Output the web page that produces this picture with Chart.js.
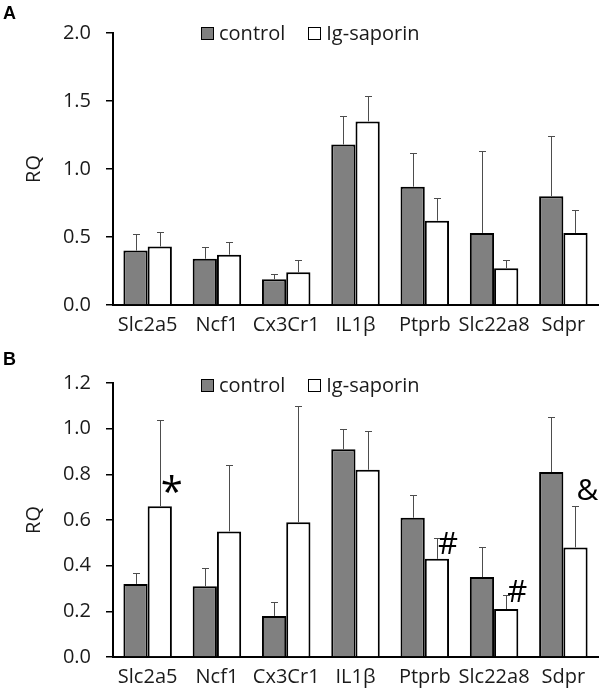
<!DOCTYPE html>
<html>
<head>
<meta charset="utf-8">
<script src="https://cdn.jsdelivr.net/npm/chart.js@4.4.1/dist/chart.umd.min.js"></script>
<style>
  body { margin: 0; background: #fff; }
  .panel { position: relative; width: 600px; height: 345px; }
  .panel canvas { position: absolute; left: 0; top: 0; }
  .letter { position: absolute; left: 3px; font: bold 18px 'Liberation Sans', Arial, sans-serif; line-height: 18px; color: #000; }
  .legend { position: absolute; left: 201px; display: flex; align-items: center; font: 20px 'Open Sans', sans-serif; line-height: 24px; color: #1a1a1a; }
  .legend .box { width: 11px; height: 11px; border: 1px solid #000; margin-right: 5px; }
  .legend .item { display: flex; align-items: center; margin-right: 23px; }
</style>
</head>
<body>
<div class="panel">
  <canvas id="chartA" width="600" height="345"></canvas>
  <div class="letter" style="top:4px">A</div>
  <div class="legend" id="legendA" style="top:21px"></div>
</div>
<div class="panel">
  <canvas id="chartB" width="600" height="345"></canvas>
  <div class="letter" style="top:5px">B</div>
  <div class="legend" id="legendB" style="top:28px"></div>
</div>
<script>
const genes = ['Slc2a5', 'Ncf1', 'Cx3Cr1', 'IL1\u03B2', 'Ptprb', 'Slc22a8', 'Sdpr'];

// panel A
const ctrlA = [0.40, 0.34, 0.19, 1.18, 0.87, 0.53, 0.80];
const ctrlErrA = [0.12, 0.09, 0.04, 0.21, 0.25, 0.60, 0.44];
const igA = [0.43, 0.37, 0.24, 1.35, 0.62, 0.27, 0.53];
const igErrA = [0.11, 0.09, 0.09, 0.19, 0.17, 0.06, 0.17];
const ticksA = [0, 0.5, 1.0, 1.5, 2.0];

// panel B
const ctrlB = [0.32, 0.31, 0.18, 0.91, 0.61, 0.35, 0.81];
const ctrlErrB = [0.05, 0.08, 0.06, 0.09, 0.10, 0.13, 0.24];
const igB = [0.66, 0.55, 0.59, 0.82, 0.43, 0.21, 0.48];
const igErrB = [0.38, 0.29, 0.51, 0.17, 0.09, 0.06, 0.18];
const ticksB = [0, 0.2, 0.4, 0.6, 0.8, 1.0, 1.2];
const marksB = ['*', '', '', '', '#', '#', '&'];
const markLevelB = [0.71, null, null, null, 0.49, 0.28, 0.725];

Chart.defaults.font.family = "'Open Sans', sans-serif";
Chart.defaults.font.size = 20;
Chart.defaults.color = '#1a1a1a';

// one-sided (upper) error bars from the errors array of each dataset
const errorBars = {
  id: 'errorBars',
  afterDatasetsDraw(chart) {
    const ctx = chart.ctx;
    const y = chart.scales.y;
    chart.data.datasets.forEach((ds, i) => {
      chart.getDatasetMeta(i).data.forEach((bar, j) => {
        const x = Math.round(bar.x) + 0.5;
        const top = Math.round(y.getPixelForValue(ds.data[j] + ds.errors[j])) + 0.5;
        ctx.save();
        ctx.strokeStyle = '#4d4d4d';
        ctx.lineWidth = 1;
        ctx.beginPath();
        ctx.moveTo(x, bar.y);
        ctx.lineTo(x, top);
        ctx.moveTo(x - 3.5, top);
        ctx.lineTo(x + 3.5, top);
        ctx.stroke();
        ctx.restore();
      });
    });
  }
};

const sigMarks = {
  id: 'sigMarks',
  afterDatasetsDraw(chart, args, opts) {
    if (!opts.marks) return;
    const ctx = chart.ctx;
    const y = chart.scales.y;
    const bars = chart.getDatasetMeta(opts.dataset).data;
    ctx.save();
    ctx.fillStyle = '#000';
    ctx.textAlign = 'left';
    ctx.textBaseline = 'middle';
    opts.marks.forEach((m, j) => {
      if (!m) return;
      const size = m === '*' ? 40 : (m === '#' ? 31 : 30);
      ctx.font = size + "px 'Open Sans', sans-serif";
      ctx.fillText(m, bars[j].x + 1, y.getPixelForValue(opts.levels[j]));
    });
    ctx.restore();
  }
};

function makeChart(id, ctrl, ctrlErr, ig, igErr, ticks, top, axisH, marks, levels) {
  return new Chart(document.getElementById(id), {
    type: 'bar',
    data: {
      labels: genes,
      datasets: [{
        label: 'control',
        data: ctrl,
        errors: ctrlErr,
        backgroundColor: '#808080',
        borderColor: '#000',
        borderWidth: 2
      }, {
        label: 'Ig-saporin',
        data: ig,
        errors: igErr,
        backgroundColor: '#ffffff',
        borderColor: '#000',
        borderWidth: 2
      }]
    },
    options: {
      responsive: false,
      animation: false,
      layout: { padding: { top: top, right: 2, left: 0, bottom: 0 } },
      datasets: { bar: { categoryPercentage: 0.7, barPercentage: 1.0 } },
      plugins: {
        legend: { display: false },
        tooltip: { enabled: false },
        sigMarks: { marks: marks, levels: levels, dataset: 1 }
      },
      scales: {
        x: {
          grid: { display: false, drawTicks: false },
          border: { color: '#000', width: 2 },
          ticks: { padding: 8, maxRotation: 0, autoSkip: false },
          afterFit(s) { s.height = axisH; }
        },
        y: {
          min: ticks[0],
          max: ticks[ticks.length - 1],
          afterBuildTicks(s) { s.ticks = ticks.map(v => ({ value: v })); },
          ticks: { padding: 15, callback: v => v.toFixed(1) },
          grid: { drawOnChartArea: false, tickLength: 7, color: '#000', lineWidth: 1.5 },
          border: { color: '#000', width: 2 },
          title: { display: true, text: 'RQ', padding: { top: 22, bottom: 0 } },
          afterFit(s) { s.width = 113; }
        }
      }
    },
    plugins: [errorBars, sigMarks]
  });
}

function buildLegend(elId, chart) {
  const el = document.getElementById(elId);
  chart.data.datasets.forEach(ds => {
    const item = document.createElement('div');
    item.className = 'item';
    const box = document.createElement('div');
    box.className = 'box';
    box.style.background = ds.backgroundColor;
    const txt = document.createElement('span');
    txt.textContent = ds.label;
    item.appendChild(box);
    item.appendChild(txt);
    el.appendChild(item);
  });
}

const chartA = makeChart('chartA', ctrlA, ctrlErrA, igA, igErrA, ticksA, 33, 40, null, null);
const chartB = makeChart('chartB', ctrlB, ctrlErrB, igB, igErrB, ticksB, 38, 33, marksB, markLevelB);
buildLegend('legendA', chartA);
buildLegend('legendB', chartB);
</script>
</body>
</html>
